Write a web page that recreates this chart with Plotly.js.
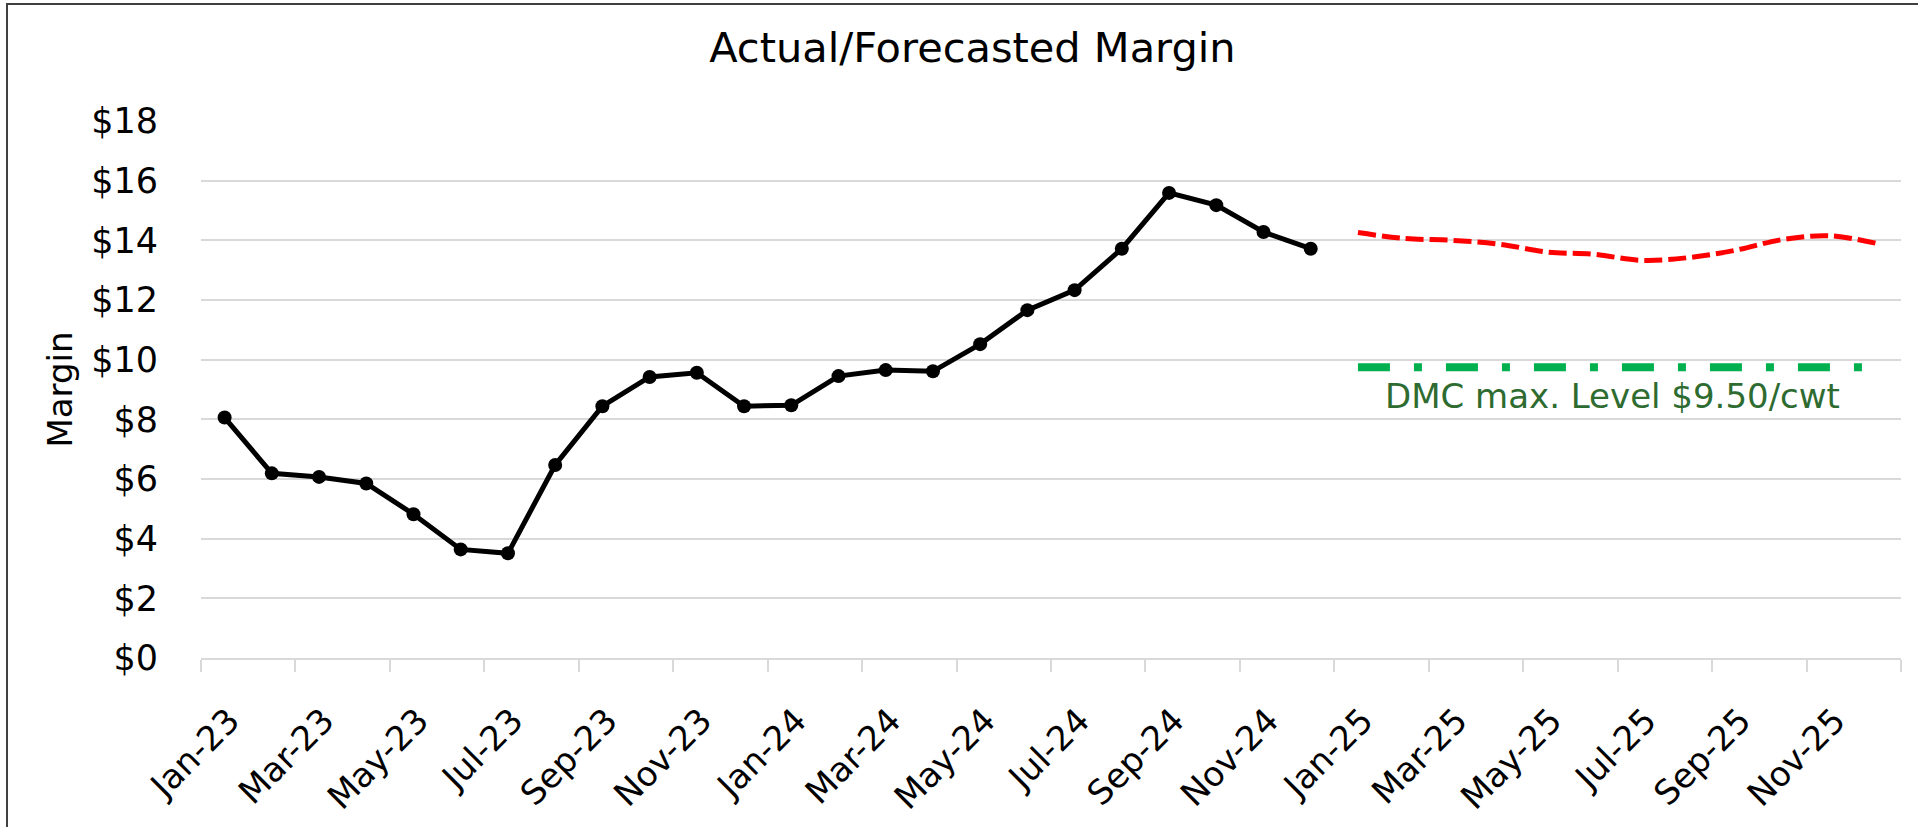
<!DOCTYPE html>
<html>
<head>
<meta charset="utf-8">
<script src="https://cdn.plot.ly/plotly-3.0.1.min.js"></script>
<style>
html,body{margin:0;padding:0;background:#fff;overflow:hidden;width:1918px;height:827px}
#chart{position:absolute;left:0;top:0;width:1918px;height:827px}
#frame{position:absolute;left:6px;top:3px;width:1930px;height:860px;border:2px solid #404040;box-sizing:border-box;pointer-events:none}
</style>
</head>
<body>
<div id="chart"></div>
<div id="frame"></div>
<script>
// Month categories (x axis)
const months = [
  "Jan-23","Feb-23","Mar-23","Apr-23","May-23","Jun-23","Jul-23","Aug-23","Sep-23","Oct-23","Nov-23","Dec-23",
  "Jan-24","Feb-24","Mar-24","Apr-24","May-24","Jun-24","Jul-24","Aug-24","Sep-24","Oct-24","Nov-24","Dec-24",
  "Jan-25","Feb-25","Mar-25","Apr-25","May-25","Jun-25","Jul-25","Aug-25","Sep-25","Oct-25","Nov-25","Dec-25"
];

// Actual margin, Jan-23 .. Dec-24
const actualMonths = [
  "Jan-23","Feb-23","Mar-23","Apr-23","May-23","Jun-23","Jul-23","Aug-23","Sep-23","Oct-23","Nov-23","Dec-23",
  "Jan-24","Feb-24","Mar-24","Apr-24","May-24","Jun-24","Jul-24","Aug-24","Sep-24","Oct-24","Nov-24","Dec-24"
];
const actualMargin = [8.06, 6.19, 6.07, 5.85, 4.82, 3.64, 3.51, 6.47, 8.44, 9.42, 9.56, 8.44,
                      8.47, 9.45, 9.65, 9.61, 10.52, 11.66, 12.33, 13.72, 15.59, 15.18, 14.28, 13.72];

// Forecasted margin, Jan-25 .. Dec-25
const forecastMonths = ["Jan-25","Feb-25","Mar-25","Apr-25","May-25","Jun-25","Jul-25","Aug-25","Sep-25","Oct-25","Nov-25","Dec-25"];
const forecastMargin = [14.26, 14.06, 14.00, 13.87, 13.61, 13.53, 13.33, 13.42, 13.67, 14.03, 14.15, 13.89];

// DMC max level line
const dmcLevel = [9.75, 9.75, 9.75, 9.75, 9.75, 9.75, 9.75, 9.75, 9.75, 9.75, 9.75, 9.75];
const dmcLabel = "DMC max. Level $9.50/cwt";

// Y axis ticks
const yTickVals = [0, 2, 4, 6, 8, 10, 12, 14, 16, 18];
const yTickText = ["$0", "$2", "$4", "$6", "$8", "$10", "$12", "$14", "$16", "$18"];

const FONT = "'DejaVu Sans', Verdana, sans-serif";

const traces = [
  {
    x: actualMonths, y: actualMargin, type: "scatter", mode: "lines+markers",
    line: {color: "#000000", width: 5},
    marker: {color: "#000000", size: 14},
    name: "Actual"
  },
  {
    x: forecastMonths, y: forecastMargin, type: "scatter", mode: "lines",
    line: {color: "#ff0000", width: 5, dash: "18px,6px", shape: "spline", smoothing: 1},
    name: "Forecast"
  },
  {
    x: forecastMonths, y: dmcLevel, type: "scatter", mode: "lines",
    line: {color: "#00b050", width: 8, dash: "32px,24px,8px,24px"},
    name: "DMC"
  }
];

const layout = {
  width: 1918, height: 827,
  paper_bgcolor: "#ffffff", plot_bgcolor: "#ffffff",
  showlegend: false,
  font: {family: FONT, color: "#000000"},
  margin: {l: 201, r: 17, t: 121, b: 169, pad: 0},
  title: {
    text: "Actual/Forecasted Margin",
    font: {family: FONT, size: 41.5, color: "#000000"},
    x: 0.507, xref: "container", xanchor: "center",
    y: 0.943, yref: "container", yanchor: "middle"
  },
  xaxis: {
    type: "category",
    categoryorder: "array", categoryarray: months,
    range: [-0.5, 35.5],
    tickmode: "linear", tick0: 0, dtick: 2,
    tickson: "boundaries",
    ticks: "outside", ticklen: 12, tickwidth: 2, tickcolor: "#d9d9d9",
    showline: true, linecolor: "#d9d9d9", linewidth: 2,
    showgrid: false, zeroline: false,
    tickangle: -45,
    ticklabelstandoff: 27,
    ticklabelshift: 5,
    tickfont: {family: FONT, size: 34, color: "#000000"},
    automargin: false, fixedrange: true
  },
  yaxis: {
    range: [0, 18],
    tickmode: "array", tickvals: yTickVals, ticktext: yTickText,
    showgrid: true, gridcolor: "#d9d9d9", gridwidth: 2,
    zeroline: false, showline: false, ticks: "",
    ticklabelstandoff: 42,
    tickfont: {family: FONT, size: 35, color: "#000000"},
    title: {text: "Margin", font: {family: FONT, size: 34, color: "#000000"}, standoff: 8},
    automargin: false, fixedrange: true
  },
  annotations: [
    {
      text: dmcLabel, xref: "paper", yref: "y",
      x: 0.830, y: 8.78, xanchor: "center", yanchor: "middle",
      showarrow: false,
      font: {family: FONT, size: 34, color: "#2E6B30"}
    }
  ]
};

Plotly.newPlot("chart", traces, layout, {displayModeBar: false, staticPlot: true});
</script>
</body>
</html>
